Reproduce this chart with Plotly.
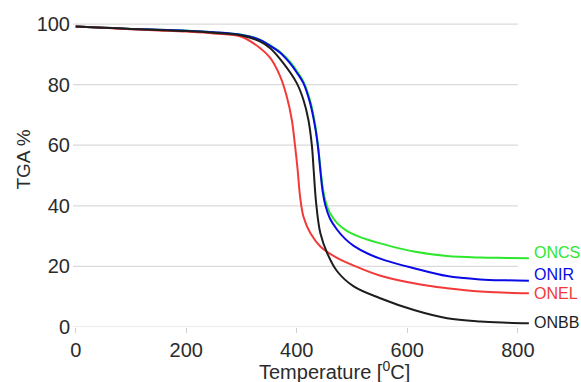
import plotly.graph_objects as go

# ---- data ----
oncs_t = [0, 50, 100, 150, 200, 250, 300, 330, 352, 370, 388, 400, 412, 424, 433, 439, 443, 447, 452, 460, 473, 490, 510, 530, 551, 580, 612, 672, 732, 780, 820]
oncs_v = [99.2, 98.8, 98.4, 98.1, 97.8, 97.3, 96.5, 95.1, 93.0, 90.8, 87.5, 84.5, 81.0, 74.8, 67.0, 59.0, 52.0, 46.0, 41.5, 37.6, 34.3, 31.8, 30.0, 28.7, 27.6, 26.2, 24.9, 23.4, 22.9, 22.8, 22.7]

onir_t = [0, 50, 100, 150, 200, 250, 300, 330, 352, 370, 388, 400, 412, 424, 433, 439, 443, 447, 452, 460, 473, 488, 503, 530, 560, 612, 672, 732, 780, 820]
onir_v = [99.2, 98.8, 98.4, 98.1, 97.8, 97.3, 96.4, 95.0, 92.8, 90.5, 87.0, 84.0, 80.5, 74.0, 66.2, 58.5, 51.0, 44.6, 40.0, 35.8, 32.1, 29.0, 26.8, 24.1, 22.0, 19.4, 16.8, 15.7, 15.4, 15.3]

onel_t = [0, 50, 100, 150, 200, 250, 300, 334, 352, 370, 382, 391, 397, 401.5, 406, 412, 424.5, 442.6, 472.8, 500, 550, 624, 672, 732, 780, 820]
onel_v = [99.2, 98.8, 98.3, 97.9, 97.5, 96.9, 95.8, 92.0, 88.8, 82.7, 76.0, 68.4, 59.6, 52.0, 43.0, 36.5, 31.0, 26.6, 22.8, 20.5, 17.0, 14.0, 12.8, 11.7, 11.3, 11.1]

onbb_t = [0, 50, 100, 150, 200, 250, 300, 334, 352, 376, 400, 412, 421, 427.5, 430.5, 435, 442.6, 455, 473, 503, 551, 612, 672, 732, 780, 820]
onbb_v = [99.2, 98.8, 98.4, 98.0, 97.7, 97.1, 96.2, 94.2, 92.0, 87.0, 80.5, 75.0, 68.4, 59.6, 52.0, 41.0, 31.0, 24.4, 18.4, 13.4, 9.5, 5.6, 2.9, 1.8, 1.4, 1.2]

series_names = ["ONCS", "ONIR", "ONEL", "ONBB"]
series_colors = ["#2ee82e", "#0a0ae6", "#f23a3a", "#1e1e1e"]
series_yshift = [6, 6, 0, 1]

x_tickvals = [0, 200, 400, 600, 800]
x_ticktext = ["0", "200", "400", "600", "800"]
y_tickvals = [0, 20, 40, 60, 80, 100]
y_ticktext = ["0", "20", "40", "60", "80", "100"]

x_range = [-4.9, 822]
y_range = [0, 101]

FONT = "Liberation Sans, Arial, sans-serif"
TXT = "#2b2b2b"

fig = go.Figure()

series = [(oncs_t, oncs_v), (onir_t, onir_v), (onel_t, onel_v), (onbb_t, onbb_v)]
for (t, v), name, col in zip(series, series_names, series_colors):
    fig.add_trace(go.Scatter(
        x=t, y=v, mode="lines", name=name,
        line=dict(color=col, width=2, shape="spline", smoothing=1.0),
        showlegend=False, hoverinfo="skip",
    ))

# horizontal gridlines up to the last x tick
for yv in y_tickvals:
    fig.add_shape(type="line", xref="x", yref="y",
                  x0=x_range[0], x1=x_tickvals[-1], y0=yv, y1=yv,
                  line=dict(color="#dadada", width=1.2), layer="below")

# end-of-line labels
for (t, v), name, col, ys in zip(series, series_names, series_colors, series_yshift):
    fig.add_annotation(x=t[-1], y=v[-1], xref="x", yref="y", text=name,
                       showarrow=False, xanchor="left", yanchor="middle",
                       xshift=3, yshift=ys,
                       font=dict(family=FONT, size=16, color=col))

# axis titles
fig.add_annotation(x=0.573, y=-0.19, xref="paper", yref="paper",
                   text="Temperature [<sup>0</sup>C]", showarrow=False,
                   xanchor="center", yanchor="bottom",
                   font=dict(family=FONT, size=20, color=TXT))
fig.add_annotation(x=-0.108, y=0.546, xref="paper", yref="paper",
                   text="TGA %", showarrow=False, textangle=-90,
                   xanchor="center", yanchor="middle",
                   font=dict(family=FONT, size=19, color=TXT))

fig.update_xaxes(range=x_range, tickvals=x_tickvals, ticktext=x_ticktext,
                 showgrid=False, zeroline=False, showline=False,
                 ticks="outside", ticklen=5, tickcolor="#d0d0d0", tickwidth=1,
                 tickfont=dict(family=FONT, size=20, color=TXT), automargin=False)
fig.update_yaxes(range=y_range, tickvals=y_tickvals, ticktext=y_ticktext,
                 showgrid=False, zeroline=False, showline=False,
                 ticks="", ticklabelstandoff=2,
                 tickfont=dict(family=FONT, size=20, color=TXT), automargin=False)

fig.update_layout(
    width=581, height=382,
    margin=dict(l=73, r=51, t=21, b=55),
    plot_bgcolor="white", paper_bgcolor="white",
)

fig.write_html("out.html", config={"displayModeBar": False},
               post_script="document.body.style.margin='0';document.body.style.padding='0';document.body.style.overflow='hidden';")
